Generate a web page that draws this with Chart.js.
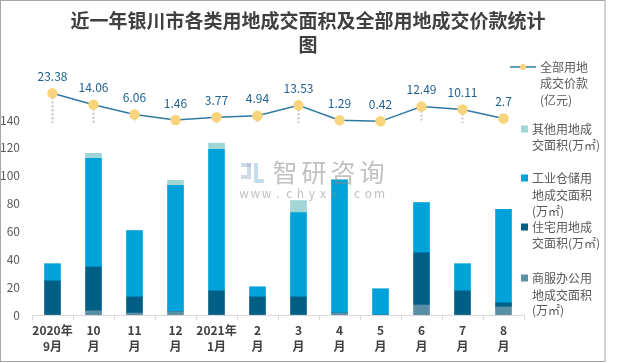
<!DOCTYPE html>
<html>
<head>
<meta charset="utf-8">
<script src="https://cdn.jsdelivr.net/npm/chart.js@4.4.0/dist/chart.umd.min.js"></script>
<style>
  html, body { margin: 0; padding: 0; background: #fff; }
</style>
</head>
<body>
<canvas id="chart" width="620" height="363"></canvas>
<script>
// categories (two-line tick labels)
const months = [
  ['2020年', '9月'], ['10', '月'], ['11', '月'], ['12', '月'],
  ['2021年', '1月'], ['2', '月'], ['3', '月'], ['4', '月'],
  ['5', '月'], ['6', '月'], ['7', '月'], ['8', '月']
];
// land area sold, 万㎡
const commercial  = [0, 3, 1.4, 2.4, 0, 0, 0, 1.4, 0, 7.2, 0, 5.8];
const residential = [24.5, 31.5, 11.6, 0, 17.3, 13, 13, 0, 0, 37.5, 17.3, 2.9];
const industrial  = [12.3, 78, 47.6, 90.7, 101.7, 7.2, 60.6, 95.6, 18.8, 36.1, 19.5, 67.1];
const other       = [0, 3.6, 0, 3.6, 4.4, 0, 8.6, 0, 0, 0, 0, 0];
// total price, 亿元
const price = [23.38, 14.06, 6.06, 1.46, 3.77, 4.94, 13.53, 1.29, 0.42, 12.49, 10.11, 2.7];
// area axis labels stop at 140, the price line sits above them
const areaTickMax = 140;

const FONT = '"Noto Sans CJK SC", "Noto Sans", sans-serif';
const colors = {
  commercial: '#5b8fa8',
  residential: '#005f85',
  industrial: '#00a2da',
  other: '#a0d6d6',
  line: '#2f7aa3',
  point: '#f8d47c'
};

const legendItems = [
  { kind: 'line', lines: ['全部用地', '成交价款', '(亿元)'], ys: [67, 83.5, 100] },
  { kind: 'box', color: colors.other, lines: ['其他用地成', '交面积(万㎡)'], ys: [129, 145] },
  { kind: 'box', color: colors.industrial, lines: ['工业仓储用', '地成交面积', '(万㎡)'], ys: [178, 195, 211] },
  { kind: 'box', color: colors.residential, lines: ['住宅用地成', '交面积(万㎡)'], ys: [227, 243] },
  { kind: 'box', color: colors.commercial, lines: ['商服办公用', '地成交面积', '(万㎡)'], ys: [278, 295, 310] }
];

const framePlugin = {
  id: 'frame',
  beforeDraw(chart) {
    const ctx = chart.ctx;
    ctx.save();
    ctx.fillStyle = '#fff';
    ctx.fillRect(0, 0, chart.width, chart.height);
    ctx.strokeStyle = '#a6a6a6';
    ctx.lineWidth = 1;
    ctx.strokeRect(0.5, 0.5, 604.5, 361);
    // title
    ctx.fillStyle = '#404040';
    ctx.font = 'bold 19px ' + FONT;
    ctx.textAlign = 'center';
    ctx.textBaseline = 'middle';
    ctx.fillText('近一年银川市各类用地成交面积及全部用地成交价款统计', 308, 21);
    ctx.fillText('图', 308, 45);
    ctx.restore();
  }
};

const dropLinePlugin = {
  id: 'dropLines',
  beforeDatasetsDraw(chart) {
    const ctx = chart.ctx;
    const meta = chart.getDatasetMeta(4);
    const base = chart.scales.y2.getPixelForValue(0) + 1;
    ctx.save();
    ctx.strokeStyle = '#c0c0c0';
    ctx.lineWidth = 2;
    ctx.setLineDash([2, 2]);
    meta.data.forEach(p => {
      ctx.beginPath();
      ctx.moveTo(p.x, p.y);
      ctx.lineTo(p.x, base);
      ctx.stroke();
    });
    ctx.restore();
  }
};

const overlayPlugin = {
  id: 'overlay',
  afterDatasetsDraw(chart) {
    const ctx = chart.ctx;
    ctx.save();
    // watermark
    ctx.fillStyle = 'rgba(140,140,140,0.55)';
    ctx.font = '25px ' + FONT;
    ctx.textAlign = 'center';
    ctx.textBaseline = 'middle';
    '智研咨询'.split('').forEach((ch, i) => ctx.fillText(ch, 285 + i * 29, 172));
    ctx.font = '12px ' + FONT;
    'www.chyxx.com'.split('').forEach((ch, i) => ctx.fillText(ch, 244 + i * 11.3, 193));
    ctx.fillStyle = 'rgba(150,170,200,0.45)';
    ctx.fillRect(241, 163, 10, 4);
    ctx.fillRect(247, 163, 4, 12);
    ctx.fillRect(241, 175, 10, 4);
    ctx.fillStyle = 'rgba(120,180,220,0.45)';
    ctx.fillRect(254, 163, 4, 20);
    ctx.fillRect(258, 179, 6, 4);

    // value labels on the line
    const meta = chart.getDatasetMeta(4);
    ctx.fillStyle = '#1f6190';
    ctx.font = '12px ' + FONT;
    meta.data.forEach((p, i) => ctx.fillText(String(price[i]), p.x, p.y - 17));

    // legend
    ctx.textAlign = 'left';
    ctx.fillStyle = '#595959';
    legendItems.forEach(item => {
      if (item.kind === 'line') {
        ctx.strokeStyle = colors.line;
        ctx.lineWidth = 1.5;
        ctx.beginPath();
        ctx.moveTo(510, item.ys[0]);
        ctx.lineTo(536, item.ys[0]);
        ctx.stroke();
        ctx.fillStyle = colors.point;
        ctx.beginPath();
        ctx.arc(523, item.ys[0], 3, 0, Math.PI * 2);
        ctx.fill();
        ctx.fillStyle = '#595959';
        item.lines.forEach((t, k) => ctx.fillText(t, 540, item.ys[k]));
      } else {
        ctx.fillStyle = item.color;
        ctx.fillRect(521, item.ys[0] - 3.5, 7, 7);
        ctx.fillStyle = '#595959';
        item.lines.forEach((t, k) => ctx.fillText(t, 532, item.ys[k]));
      }
    });
    ctx.restore();
  }
};

const barSet = (label, data, color) => ({
  type: 'bar',
  label,
  data,
  backgroundColor: color,
  yAxisID: 'y',
  barThickness: 16,
  order: 1
});

new Chart(document.getElementById('chart'), {
  data: {
    labels: months,
    datasets: [
      barSet('商服办公用地成交面积(万㎡)', commercial, colors.commercial),
      barSet('住宅用地成交面积(万㎡)', residential, colors.residential),
      barSet('工业仓储用地成交面积(万㎡)', industrial, colors.industrial),
      barSet('其他用地成交面积(万㎡)', other, colors.other),
      {
        type: 'line',
        label: '全部用地成交价款(亿元)',
        data: price,
        yAxisID: 'y2',
        borderColor: colors.line,
        borderWidth: 1.5,
        pointRadius: 4.5,
        pointBackgroundColor: colors.point,
        pointBorderColor: colors.point,
        tension: 0,
        clip: false,
        order: 0
      }
    ]
  },
  options: {
    responsive: false,
    animation: false,
    layout: { padding: { top: 61, right: 96, left: 0, bottom: 0 } },
    plugins: {
      legend: { display: false },
      title: { display: false },
      tooltip: { enabled: false }
    },
    scales: {
      x: {
        stacked: true,
        grid: { offset: true, drawOnChartArea: false, tickLength: 5, color: '#d9d9d9' },
        border: { color: '#d9d9d9' },
        ticks: {
          color: '#404040',
          font: { family: FONT, size: 12, weight: 'bold', lineHeight: 1.3 },
          padding: 3,
          maxRotation: 0,
          autoSkip: false
        },
        afterFit(s) { s.height = 48; s.paddingLeft = 0; s.paddingRight = 0; }
      },
      y: {
        type: 'linear',
        position: 'left',
        stacked: true,
        min: 0,
        max: 182.4,
        grid: { display: false, drawTicks: false },
        border: { display: false },
        ticks: { stepSize: 20, padding: 12, autoSkip: false, color: '#595959', font: { family: FONT, size: 12 } },
        afterBuildTicks(s) { s.ticks = s.ticks.filter(t => t.value <= areaTickMax); },
        afterFit(s) { s.width = 32; s.paddingTop = 0; s.paddingBottom = 0; }
      },
      // price axis: hidden, its zero sits just under the 140 label
      y2: {
        type: 'linear',
        display: false,
        min: -158.4,
        max: 49.9
      }
    }
  },
  plugins: [framePlugin, dropLinePlugin, overlayPlugin]
});
</script>
</body>
</html>
